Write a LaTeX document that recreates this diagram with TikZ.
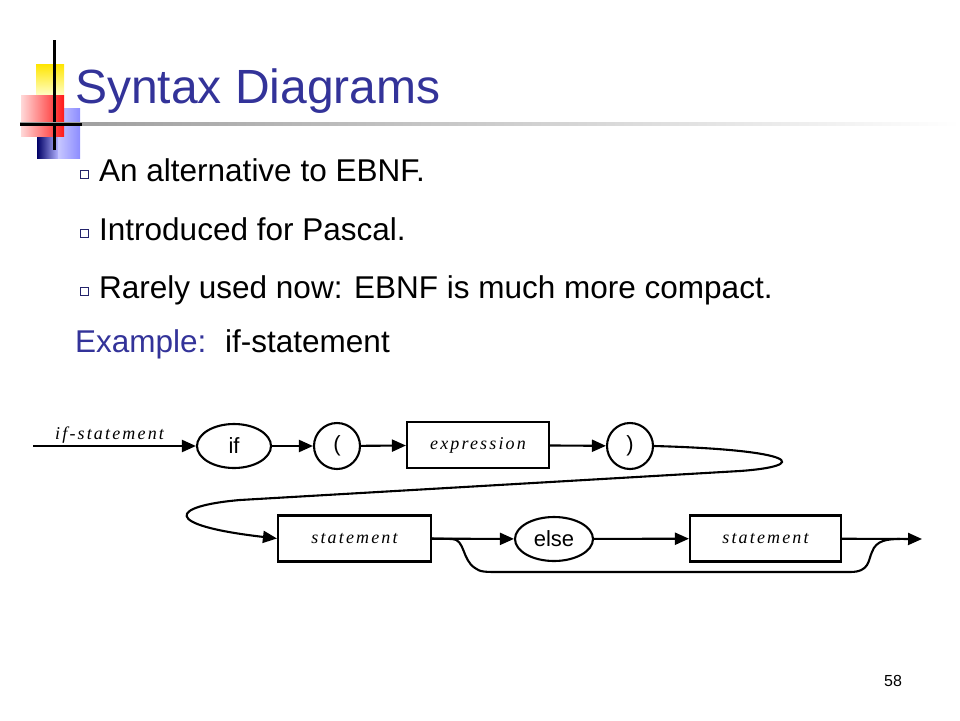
\documentclass[tikz,border=0pt]{standalone}
\usepackage{fontspec}
\setmainfont{Liberation Sans}
\newfontfamily\dser[LetterSpace=12]{Liberation Serif}
\usetikzlibrary{arrows.meta,shapes.geometric}
\definecolor{tblue}{RGB}{51,51,153}
\tikzset{
  tip/.style={-{Triangle[length=14pt,width=12pt]}},
  ln/.style={line width=2.1pt},
  term/.style={draw,ellipse,line width=2.1pt,font=\fontsize{22}{22}\selectfont,inner sep=0pt},
  nbox/.style={draw,rectangle,line width=2.1pt,font=\fontsize{18}{18}\selectfont\dser\itshape,minimum height=46pt,inner sep=0pt},
  bul/.style={font=\fontsize{31.5}{31.5}\selectfont,anchor=base west},
}
\begin{document}
\begin{tikzpicture}[x=1pt,y=-1pt]
\useasboundingbox (0,0) rectangle (960,720);
% logo
\fill[shade,top color=yellow!80!orange,bottom color=yellow!20] (36,64) rectangle (64,96);
\shade[left color=white,right color=blue!45!white] (37,108) rectangle (80,158);
\shade[left color=red!15,right color=red!90] (21,95) rectangle (64,136);
\shade[left color=blue!40!black,right color=blue!30] (37,137) rectangle (58,158);
\draw[line width=3pt] (54,40) -- (54,150);
\shade[left color=gray!80,right color=white] (20,122.5) rectangle (960,125.5);
\draw[line width=3pt] (20,124) -- (82,124);
% title
\node[anchor=base west,text=tblue,font=\fontsize{48}{48}\selectfont,inner sep=0] (title) at (75,103) {Syntax Diagrams};
% bullets
\foreach \y/\t [count=\i] in {181/An alternative to EBNF., 240/Introduced for Pascal., 298/Rarely used now: EBNF is much more compact.}{
  \draw[tblue!70!black,line width=0.7pt] (80,\y-11) rectangle (88,\y-3);
  \node[bul,inner sep=0] (b\i) at (99,\y) {\t};
}
\node[bul,inner sep=0,text=tblue] (ex) at (75,352) {Example:};
\node[bul,inner sep=0] (exv) at (225,352) {if-statement};
\node[anchor=base,font=\fontsize{16}{16}\selectfont,inner sep=0] (pg) at (893,686) {58};
% diagram
\coordinate (start) at (33,446);
\node[anchor=base west,font=\fontsize{18}{18}\selectfont\dser\itshape,inner sep=0] (lab) at (55,439) {if-statement};
\node[term,minimum width=74pt,minimum height=44pt] (if) at (234,446) {if};
\node[term,circle,minimum size=46pt] (lp) at (337,446) {(};
\node[nbox,minimum width=142pt] (expr) at (478,445) {expression};
\node[term,circle,minimum size=46pt] (rp) at (630,446) {)};
\node[nbox,minimum width=153pt] (st1) at (354.5,538.5) {statement};
\node[term,minimum width=78pt,minimum height=44pt] (else) at (554,539) {else};
\node[nbox,minimum width=151pt] (st2) at (765.5,538.5) {statement};
\coordinate (end) at (922,539);
\draw[ln] (start) -- (lab.south west |- start);
\draw[ln,tip] (start) -- (if);
\draw[ln,tip] (if) -- (lp);
\draw[ln,tip] (lp) -- (expr);
\draw[ln,tip] (expr) -- (rp);
\draw[ln,tip] (rp.east) .. controls (800,450) and (810,466) .. (740,471) -- (240,500) .. controls (170,506) and (160,525) .. (st1.west);
\draw[ln,tip] (st1) -- (else);
\draw[ln,tip] (else) -- (st2);
\draw[ln,tip] (st2) -- (end);
\draw[ln] (st1.east) -- (452,539) .. controls (465,539) and (462,560) .. (475,568) .. controls (480,572) and (485,572) .. (500,572) -- (850,572) .. controls (870,572) and (868,560) .. (872,552) .. controls (876,540) and (888,539) .. (900,539);
\end{tikzpicture}
\end{document}
